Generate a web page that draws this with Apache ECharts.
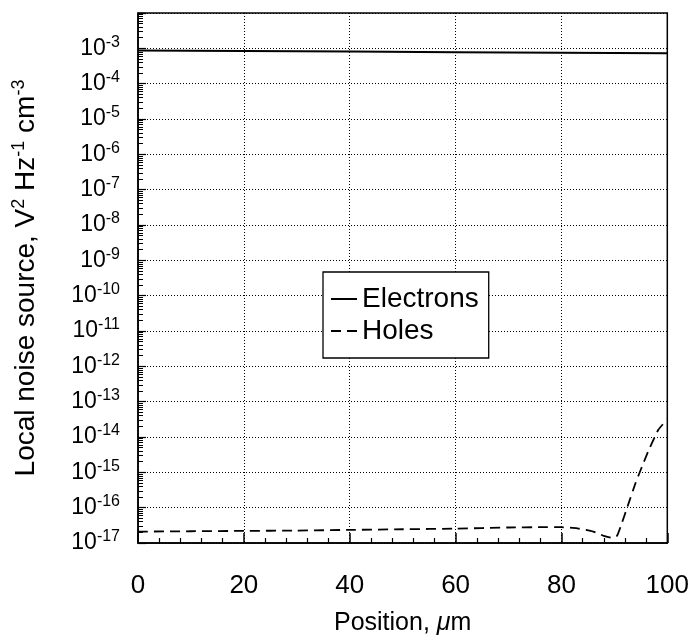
<!DOCTYPE html>
<html>
<head>
<meta charset="utf-8">
<script src="https://cdn.jsdelivr.net/npm/echarts@6/dist/echarts.min.js"></script>
<style>
  html, body { margin: 0; padding: 0; background: #fff; }
  #chart { width: 692px; height: 644px; }
</style>
</head>
<body>
<div id="chart"></div>
<script>
// Position along the device, in micrometres
const electronPos = [0, 20, 40, 60, 80, 100];
// Electron local noise source, V^2 Hz^-1 cm^-3
const electronNoise = [8.7e-4, 8.4e-4, 8.1e-4, 7.8e-4, 7.5e-4, 7.2e-4];

const holePos = [0, 10, 20, 30, 40, 50, 60, 70, 76, 80, 83, 86, 88, 89.5, 90.5, 91.5, 92.5, 94, 95, 96.5, 98.3, 100];
// Hole local noise source, V^2 Hz^-1 cm^-3
const holeNoise = [2.1e-17, 2.15e-17, 2.2e-17, 2.25e-17, 2.35e-17, 2.45e-17, 2.55e-17, 2.75e-17, 2.8e-17, 2.8e-17,
                   2.6e-17, 2.1e-17, 1.6e-17, 1.4e-17, 1.6e-17, 4e-17, 1.1e-16, 5e-16, 1.2e-15, 4.3e-15, 1.6e-14, 3.2e-14];

const xTicks = [0, 20, 40, 60, 80, 100];
const yDecadeMin = -17;
const yDecadeMax = -2;
const yLabelMaxExp = -3;

const FONT = '"Liberation Sans", Arial, Helvetica, sans-serif';

// log minor tick values 2..9 in every decade
const minorTickValues = [];
for (let e = yDecadeMin; e < yDecadeMax; e++) {
  for (let m = 2; m <= 9; m++) minorTickValues.push(m * Math.pow(10, e));
}

const chart = echarts.init(document.getElementById('chart'), null, { renderer: 'canvas' });

const option = {
  animation: false,
  backgroundColor: '#fff',
  grid: {
    left: 138, right: 13, top: 13, bottom: 101,
    show: true, borderColor: '#000', borderWidth: 1.5, backgroundColor: 'transparent'
  },
  legend: {
    left: 323, top: 272,
    orient: 'vertical',
    backgroundColor: '#fff',
    borderColor: '#000', borderWidth: 1.3,
    padding: [12, 10, 12, 7],
    itemWidth: 26, itemHeight: 14, itemGap: 2,
    itemStyle: { color: 'rgba(0,0,0,0)', borderColor: 'rgba(0,0,0,0)', borderWidth: 0, opacity: 0 },
    textStyle: { fontFamily: FONT, fontSize: 28, color: '#000', lineHeight: 30 },
    data: ['Electrons', 'Holes']
  },
  xAxis: {
    type: 'value',
    min: xTicks[0], max: xTicks[xTicks.length - 1], interval: 20,
    name: 'Position, {i|μ}m',
    nameLocation: 'middle', nameGap: 68,
    nameTextStyle: {
      fontFamily: FONT, fontSize: 25, color: '#000',
      rich: { i: { fontFamily: FONT, fontSize: 25, fontStyle: 'italic', color: '#000' } }
    },
    axisLine: { show: true, lineStyle: { color: '#000', width: 1.5 } },
    axisTick: { show: true, inside: true, length: 10, lineStyle: { color: '#000', width: 1.5 } },
    minorTick: { show: true, splitNumber: 5, length: 5, lineStyle: { color: '#000', width: 1.2 } },
    axisLabel: { margin: 30, fontFamily: FONT, fontSize: 26, color: '#000' },
    splitLine: { show: true, lineStyle: { color: '#000', width: 1, type: [1, 2] } }
  },
  yAxis: [
    {
      type: 'log', logBase: 10,
      min: Math.pow(10, yDecadeMin), max: Math.pow(10, yDecadeMax), interval: 1,
      name: '{a|Local noise source, V}{s|2}{a| Hz}{s|-1}{a| cm}{s|-3}',
      nameLocation: 'middle', nameGap: 96, nameRotate: 90,
      nameTextStyle: {
        rich: {
          a: { fontFamily: FONT, fontSize: 28, color: '#000', lineHeight: 32 },
          s: { fontFamily: FONT, fontSize: 18, color: '#000', lineHeight: 14, verticalAlign: 'top' }
        }
      },
      axisLine: { show: true, lineStyle: { color: '#000', width: 1.5 } },
      axisTick: { show: true, inside: true, length: 8, lineStyle: { color: '#000', width: 1.2 } },
      axisLabel: {
        margin: 18,
        formatter: function (v) {
          const e = Math.round(Math.log10(v));
          if (e > yLabelMaxExp) return '';
          return '{b|10}{s|' + e + '}';
        },
        rich: {
          b: { fontFamily: FONT, fontSize: 23, color: '#000', lineHeight: 28 },
          s: { fontFamily: FONT, fontSize: 16, color: '#000', lineHeight: 12, verticalAlign: 'top' }
        }
      },
      splitLine: { show: true, lineStyle: { color: '#000', width: 1, type: [1, 2] } }
    },
    {
      // minor log ticks on the left edge
      type: 'log', logBase: 10,
      min: Math.pow(10, yDecadeMin), max: Math.pow(10, yDecadeMax),
      position: 'left',
      axisLine: { show: false },
      axisLabel: { show: false },
      splitLine: { show: false },
      axisTick: {
        show: true, inside: true, length: 5,
        customValues: minorTickValues,
        lineStyle: { color: '#000', width: 1 }
      }
    }
  ],
  series: [
    {
      name: 'Electrons',
      type: 'line',
      yAxisIndex: 0,
      symbol: 'none',
      data: electronPos.map((x, i) => [x, electronNoise[i]]),
      lineStyle: { color: '#000', width: 2, type: 'solid' },
      itemStyle: { color: '#000' }
    },
    {
      name: 'Holes',
      type: 'line',
      yAxisIndex: 0,
      symbol: 'none',
      smooth: 0.15,
      data: holePos.map((x, i) => [x, holeNoise[i]]),
      lineStyle: { color: '#000', width: 1.8, type: [10, 6] },
      itemStyle: { color: '#000' }
    }
  ]
};

chart.setOption(option);
</script>
</body>
</html>
